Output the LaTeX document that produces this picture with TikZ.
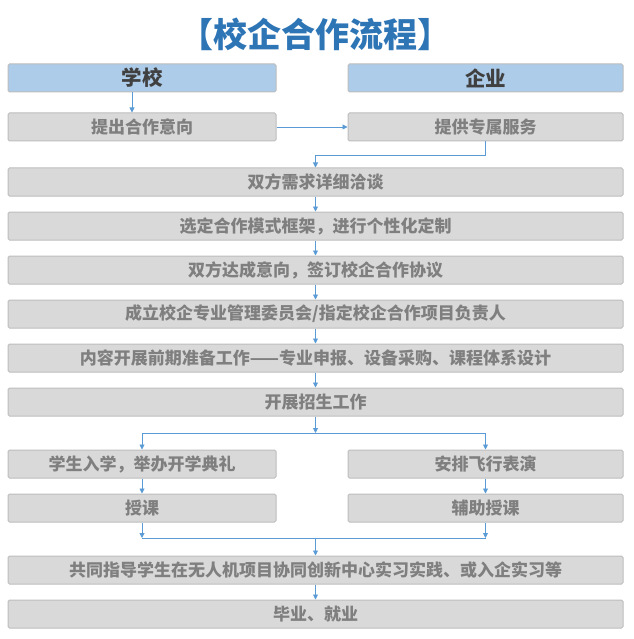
\documentclass[tikz,border=0pt]{standalone}
\usepackage{fontspec}
\setmainfont{Noto Sans CJK SC}
\usetikzlibrary{arrows.meta}
\definecolor{titleblue}{HTML}{2E75B6}
\definecolor{headfill}{HTML}{ADCCEA}
\definecolor{headtext}{HTML}{404040}
\definecolor{stepfill}{HTML}{D9D9D9}
\definecolor{steptext}{HTML}{7F7F7F}
\definecolor{boxborder}{HTML}{BDBDBD}
\definecolor{flowline}{HTML}{5B9BD5}
\tikzset{
  box/.style={
    rectangle,
    rounded corners=1.5pt,
    draw=boxborder,
    line width=1pt,
    inner sep=0pt,
    minimum height=28pt,
    font=\fontsize{17}{19}\selectfont\bfseries
  },
  header/.style={
    box,
    fill=headfill,
    text=headtext,
    font=\fontsize{20.5}{23}\selectfont\bfseries
  },
  stepbox/.style={
    box,
    fill=stepfill,
    text=steptext
  },
  left-col/.style={minimum width=268pt},
  right-col/.style={minimum width=275pt},
  full-row/.style={stepbox, minimum width=615pt},
  flow/.style={
    -{Triangle[length=5pt,width=5pt]},
    line width=0.9pt,
    draw=flowline
  },
  link/.style={
    line width=0.9pt,
    draw=flowline
  },
  title-text/.style={
    text=titleblue,
    font=\fontsize{34}{38}\selectfont\bfseries
  }
}

\begin{document}
\begin{tikzpicture}[x=1pt, y=-1pt]
\useasboundingbox (0,0) rectangle (633,639);

% Title.
\node[title-text] (title) at (315.5, 34) {【校企合作流程】};

% Two columns.
\node[header, left-col] (school) at (142, 78) {学校};
\node[header, right-col] (company) at (485.5, 78) {企业};
\node[stepbox, left-col] (intent) at (142, 127) {提出合作意向};
\node[stepbox, right-col] (service) at (485.5, 127) {提供专属服务};

% Joint steps.
\node[full-row] (talk) at (315.5, 182) {双方需求详细洽谈};
\node[full-row] (mode) at (315.5, 226) {选定合作模式框架，进行个性化定制};
\node[full-row] (sign) at (315.5, 270) {双方达成意向，签订校企合作协议};
\node[full-row] (board) at (315.5, 314) {成立校企专业管理委员会/指定校企合作项目负责人};
\node[full-row] (prepare) at (315.5, 358) {内容开展前期准备工作——专业申报、设备采购、课程体系设计};
\node[full-row] (recruit) at (315.5, 402) {开展招生工作};

% Split again.
\node[stepbox, left-col] (enroll) at (142, 464) {学生入学，举办开学典礼};
\node[stepbox, right-col] (show) at (485.5, 464) {安排飞行表演};
\node[stepbox, left-col] (teach) at (142, 508) {授课};
\node[stepbox, right-col] (assist) at (485.5, 508) {辅助授课};

% Joint ending.
\node[full-row] (practice) at (315.5, 570) {共同指导学生在无人机项目协同创新中心实习实践、或入企实习等};
\node[full-row] (career) at (315.5, 614) {毕业、就业};

% Junction points.
\coordinate (turn) at (485.5, 155);
\coordinate (split) at (315.5, 433);
\coordinate (mergeL) at (142, 538);
\coordinate (mergeR) at (485.5, 538);
\coordinate (merge) at (315.5, 538);

% Flows.
\draw[flow] ([xshift=-10pt]school.south) -- ([xshift=-10pt]intent.north);
\draw[flow] (intent.east) -- (service.west);
\draw[flow] (service.south) -- (turn) -| (talk.north);
\draw[flow] (talk) -- (mode);
\draw[flow] (mode) -- (sign);
\draw[flow] (sign) -- (board);
\draw[flow] (board) -- (prepare);
\draw[flow] (prepare) -- (recruit);

\draw[flow] (recruit) -- (split);
\draw[flow] (split) -| (enroll.north);
\draw[flow] (split) -| (show.north);
\draw[flow] (enroll) -- (teach);
\draw[flow] (show) -- (assist);

\draw[flow] (teach) -- (mergeL);
\draw[flow] (assist) -- (mergeR);
\draw[link] (mergeL) -- (mergeR);
\draw[flow] (merge) -- (practice);
\draw[flow] (practice) -- (career);

\end{tikzpicture}
\end{document}
